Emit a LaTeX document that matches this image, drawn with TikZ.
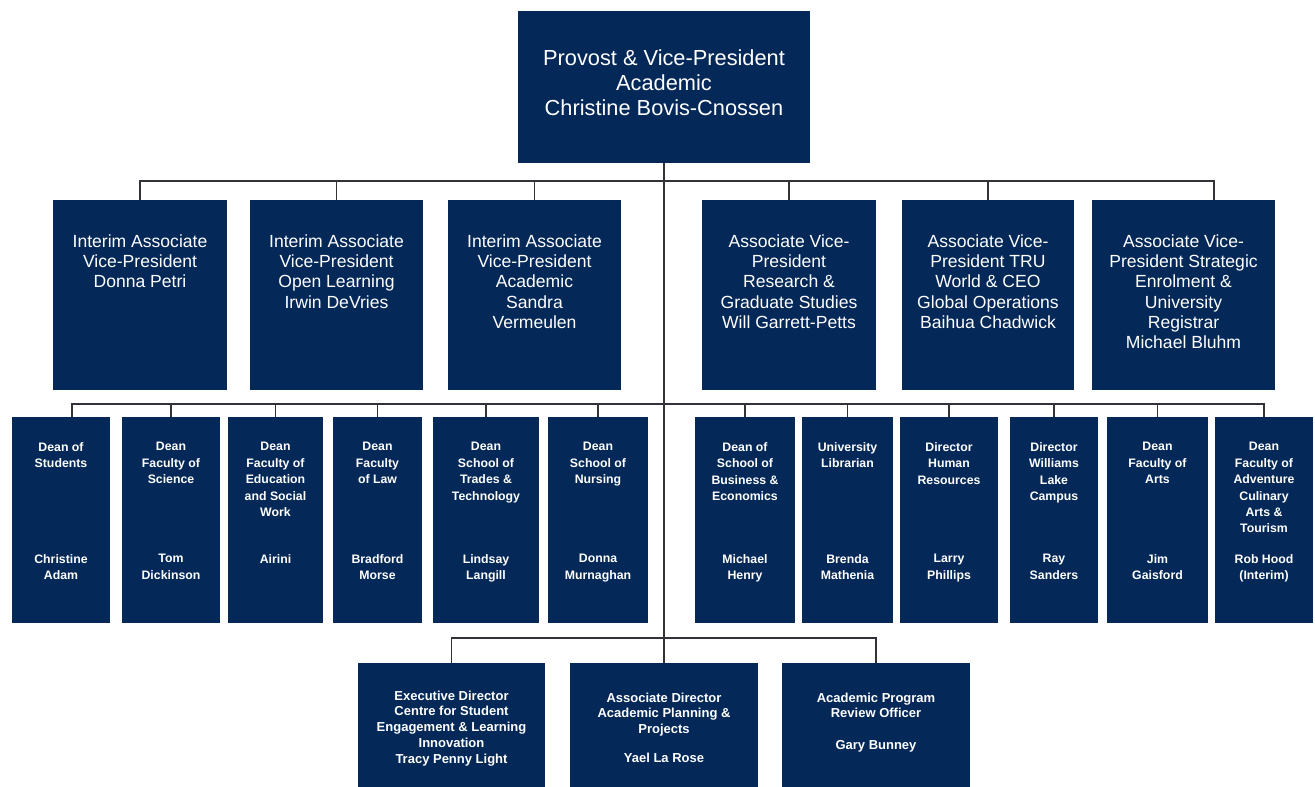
\documentclass[tikz,border=0pt]{standalone}
\usepackage{fontspec}
\setmainfont{Liberation Sans}
\usetikzlibrary{positioning}
\definecolor{trunavy}{RGB}{4,40,88}
\definecolor{wiregray}{RGB}{50,50,56}

\begin{document}
\begin{tikzpicture}[x=0.02cm,y=-0.02cm,
	wire/.style={draw=wiregray,line width=1.1pt}]
	\tikzstyle{post}=[fill=trunavy,inner sep=0pt,outer sep=0pt]
	\tikzstyle{avp}=[post,minimum height=3.8cm]
	\tikzstyle{dean}=[post,minimum height=4.12cm]
	\tikzstyle{unit}=[post,minimum height=2.6cm]
	\tikzstyle{bigtxt}=[text=white,align=center,inner sep=0pt,font=\fontsize{12.4}{14.2}\selectfont]
	\tikzstyle{avptxt}=[bigtxt,font=\fontsize{10}{11.6}\selectfont]
	\tikzstyle{deantxt}=[bigtxt,font=\bfseries\fontsize{7}{9.35}\selectfont]
	\tikzstyle{unittxt}=[bigtxt,font=\bfseries\fontsize{7.4}{8.93}\selectfont]
	\fill[white] (0,0) rectangle (1315,787);
	\useasboundingbox (0,0) rectangle (1315,787);

	\node[post,minimum width=5.86cm,minimum height=3.04cm] (provost) at (664,87) {};
	\node[bigtxt] (provost-t) [below=0.76cm of provost.north] {Provost \& Vice-President\\Academic\\Christine Bovis-Cnossen};

	\node[avp,minimum width=3.48cm] (avp1) at (140,295) {};
	\node[avp,minimum width=3.46cm] (avp2) at (336.5,295) {};
	\node[avp,minimum width=3.46cm] (avp3) at (534.5,295) {};
	\node[avp,minimum width=3.48cm] (avp4) at (789,295) {};
	\node[avp,minimum width=3.44cm] (avp5) at (988,295) {};
	\node[avp,minimum width=3.66cm] (avp6) at (1183.5,295) {};
	\node[avptxt] (avp1-t) [below=0.68cm of avp1.north] {Interim Associate\\Vice-President\\Donna Petri};
	\node[avptxt] (avp2-t) [below=0.68cm of avp2.north] {Interim Associate\\Vice-President\\Open Learning\\Irwin DeVries};
	\node[avptxt] (avp3-t) [below=0.68cm of avp3.north] {Interim Associate\\Vice-President\\Academic\\Sandra\\Vermeulen};
	\node[avptxt] (avp4-t) [below=0.68cm of avp4.north] {Associate Vice-\\President\\Research \&\\Graduate Studies\\Will Garrett-Petts};
	\node[avptxt] (avp5-t) [below=0.68cm of avp5.north] {Associate Vice-\\President TRU\\World \& CEO\\Global Operations\\Baihua Chadwick};
	\node[avptxt] (avp6-t) [below=0.68cm of avp6.north] {Associate Vice-\\President Strategic\\Enrolment \&\\University\\Registrar\\Michael Bluhm};

	\node[dean,minimum width=1.96cm] (d1) at (61,520) {};
	\node[dean,minimum width=1.96cm] (d2) at (171,520) {};
	\node[dean,minimum width=1.90cm] (d3) at (275.5,520) {};
	\node[dean,minimum width=1.78cm] (d4) at (377.5,520) {};
	\node[dean,minimum width=2.12cm] (d5) at (486,520) {};
	\node[dean,minimum width=2.00cm] (d6) at (598,520) {};
	\node[dean,minimum width=2.00cm] (d7) at (745,520) {};
	\node[dean,minimum width=1.82cm] (d8) at (847.5,520) {};
	\node[dean,minimum width=1.96cm] (d9) at (949,520) {};
	\node[dean,minimum width=1.76cm] (d10) at (1054,520) {};
	\node[dean,minimum width=2.02cm] (d11) at (1157.5,520) {};
	\node[dean,minimum width=1.96cm] (d12) at (1264,520) {};
	\node[deantxt] (d1-t) [below=0.5cm of d1.north] {Dean of\\Students};
	\node[deantxt] (d1-n) [below=2.74cm of d1.north] {Christine\\Adam};
	\node[deantxt] (d2-t) [below=0.5cm of d2.north] {Dean\\Faculty of\\Science};
	\node[deantxt] (d2-n) [below=2.74cm of d2.north] {Tom\\Dickinson};
	\node[deantxt] (d3-t) [below=0.5cm of d3.north] {Dean\\Faculty of\\Education\\and Social\\Work};
	\node[deantxt] (d3-n) [below=2.74cm of d3.north] {Airini};
	\node[deantxt] (d4-t) [below=0.5cm of d4.north] {Dean\\Faculty\\of Law};
	\node[deantxt] (d4-n) [below=2.74cm of d4.north] {Bradford\\Morse};
	\node[deantxt] (d5-t) [below=0.5cm of d5.north] {Dean\\School of\\Trades \&\\Technology};
	\node[deantxt] (d5-n) [below=2.74cm of d5.north] {Lindsay\\Langill};
	\node[deantxt] (d6-t) [below=0.5cm of d6.north] {Dean\\School of\\Nursing};
	\node[deantxt] (d6-n) [below=2.74cm of d6.north] {Donna\\Murnaghan};
	\node[deantxt] (d7-t) [below=0.5cm of d7.north] {Dean of\\School of\\Business \&\\Economics};
	\node[deantxt] (d7-n) [below=2.74cm of d7.north] {Michael\\Henry};
	\node[deantxt] (d8-t) [below=0.5cm of d8.north] {University\\Librarian};
	\node[deantxt] (d8-n) [below=2.74cm of d8.north] {Brenda\\Mathenia};
	\node[deantxt] (d9-t) [below=0.5cm of d9.north] {Director\\Human\\Resources};
	\node[deantxt] (d9-n) [below=2.74cm of d9.north] {Larry\\Phillips};
	\node[deantxt] (d10-t) [below=0.5cm of d10.north] {Director\\Williams\\Lake\\Campus};
	\node[deantxt] (d10-n) [below=2.74cm of d10.north] {Ray\\Sanders};
	\node[deantxt] (d11-t) [below=0.5cm of d11.north] {Dean\\Faculty of\\Arts};
	\node[deantxt] (d11-n) [below=2.74cm of d11.north] {Jim\\Gaisford};
	\node[deantxt] (d12-t) [below=0.5cm of d12.north] {Dean\\Faculty of\\Adventure\\Culinary\\Arts \&\\Tourism};
	\node[deantxt] (d12-n) [below=2.74cm of d12.north] {Rob Hood\\(Interim)};

	\node[unit,minimum width=3.74cm] (e1) at (451.5,728) {};
	\node[unit,minimum width=3.76cm] (e2) at (664,728) {};
	\node[unit,minimum width=3.76cm] (e3) at (876,728) {};
	\node[unittxt] (e1-t) [below=0.55cm of e1.north] {Executive Director\\Centre for Student\\Engagement \& Learning\\Innovation\\Tracy Penny Light};
	\node[unittxt] (e2-t) [below=0.59cm of e2.north] {Associate Director\\Academic Planning \&\\Projects\\[7.5pt]Yael La Rose};
	\node[unittxt] (e3-t) [below=0.59cm of e3.north] {Academic Program\\Review Officer\\[9.2pt]Gary Bunney};

	\coordinate (bus1) at (664,181);
	\coordinate (bus2) at (664,404);
	\coordinate (bus3) at (664,638);
	\draw[wire] (provost.south) -- (bus3);
	\foreach \n in {avp1,avp2,avp3,avp4,avp5}
		\draw[wire] (bus1) -| (\n.north);
	\draw[wire] (bus1) -| ([xshift=0.61cm]avp6.north);
	\foreach \n in {d2,d3,d4,d5,d6,d7,d8,d9,d10,d11,d12}
		\draw[wire] (bus2) -| (\n.north);
	\draw[wire] (bus2) -| ([xshift=0.22cm]d1.north);
	\draw[wire] (bus3) -| (e1.north);
	\draw[wire] (bus3) -| (e3.north);
	\draw[wire] (bus3) -- (e2.north);
\end{tikzpicture}
\end{document}
